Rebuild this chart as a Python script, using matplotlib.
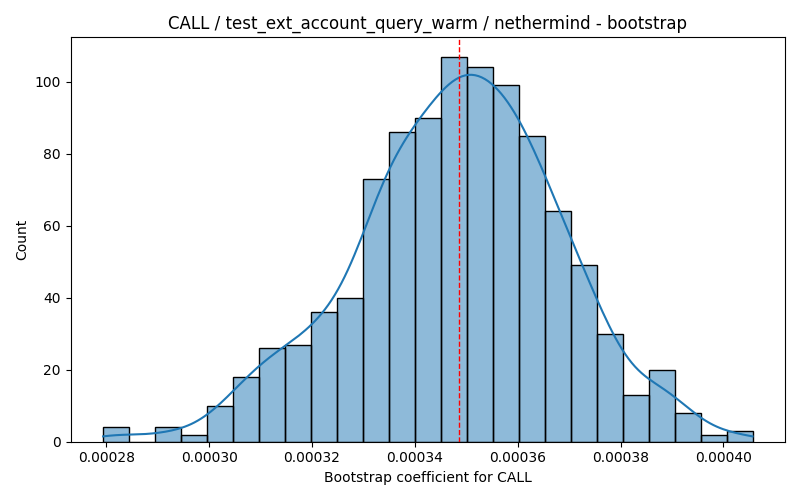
import numpy as np
import matplotlib
matplotlib.use("Agg")
import matplotlib.pyplot as plt

bin_start = 0.0002794
bin_width = 5.05e-6
counts = [4, 0, 4, 2, 10, 18, 26, 27, 36, 40, 73, 86, 90, 107, 104, 99, 85, 64, 49, 30, 13, 20, 8, 2, 3]
ref_value = 0.0003485

counts = np.array(counts, dtype=float)
edges = bin_start + bin_width * np.arange(len(counts) + 1)
centers = (edges[:-1] + edges[1:]) / 2

fig, ax = plt.subplots(figsize=(8, 5), dpi=100)
ax.bar(edges[:-1], counts, width=bin_width, align="edge",
       color="#1f77b4", alpha=0.5, edgecolor="none")
ax.bar(edges[:-1], counts, width=bin_width, align="edge",
       fill=False, edgecolor="black", linewidth=1)

# KDE from binned data (Scott's rule with n = total count)
n = counts.sum()
mean = np.sum(centers * counts) / n
std = np.sqrt(np.sum(counts * (centers - mean) ** 2) / (n - 1))
bw = std * n ** (-0.2)
grid = np.linspace(edges[0], edges[-1], 200)
dens = np.sum(counts[None, :] * np.exp(-0.5 * ((grid[:, None] - centers[None, :]) / bw) ** 2), axis=1)
dens /= (n * bw * np.sqrt(2 * np.pi))
ax.plot(grid, dens * n * bin_width, color="#1f77b4", linewidth=1.5)

ax.axvline(ref_value, color="red", linestyle="--", linewidth=1)

ax.set_title("CALL / test_ext_account_query_warm / nethermind - bootstrap")
ax.set_xlabel("Bootstrap coefficient for CALL")
ax.set_ylabel("Count")
fig.tight_layout()
fig.savefig("out.png", dpi=100)
